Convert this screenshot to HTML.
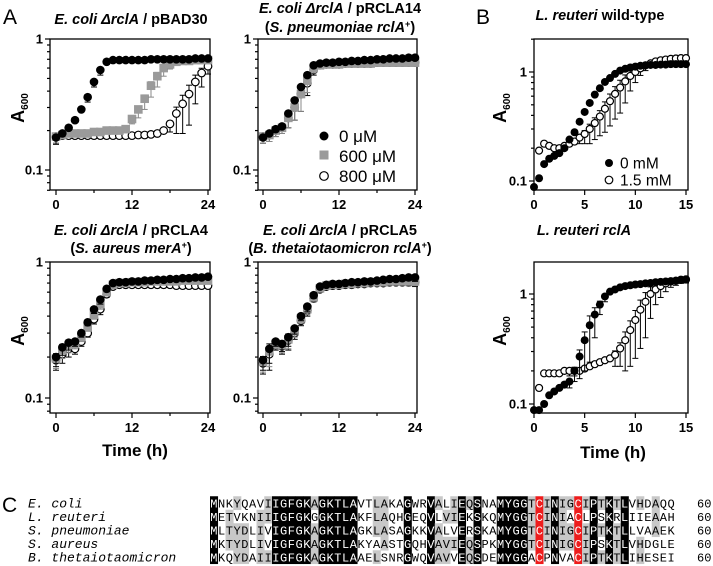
<!DOCTYPE html>
<html><head><meta charset="utf-8"><style>
html,body{margin:0;padding:0;background:#fff;width:713px;height:566px;overflow:hidden}
svg{display:block}
text{font-family:"Liberation Sans",sans-serif}
.tk{font-size:13px;font-weight:bold}
.ti{font-size:14.5px;font-weight:bold}
text.seq{font-family:"Liberation Mono","DejaVu Sans Mono",monospace !important;font-size:12px}
text.spn{font-family:"Liberation Mono","DejaVu Sans Mono",monospace !important;font-size:13px;font-style:italic}
</style></head><body>
<svg id="fig" width="713" height="566" viewBox="0 0 713 566" xmlns="http://www.w3.org/2000/svg">
<g id="panels"></g>
<g id="align"></g>
</svg>
<script>
// ---------- Panel A data (hourly 0..24) ----------
const tA = [0,1,2,3,4,5,6,7,8,9,10,11,12,13,14,15,16,17,18,19,20,21,22,23,24];
const a1Black = [0.177,0.19,0.21,0.24,0.29,0.36,0.47,0.58,0.67,0.69,0.69,0.69,0.69,0.69,0.69,0.70,0.70,0.70,0.70,0.70,0.70,0.70,0.71,0.71,0.71];
const a1Gray  = [0.18,0.185,0.19,0.19,0.19,0.19,0.195,0.195,0.2,0.2,0.2,0.205,0.245,0.29,0.35,0.44,0.52,0.6,0.64,0.67,0.68,0.68,0.69,0.69,0.69];
const a1Open  = [0.18,0.183,0.183,0.183,0.183,0.183,0.183,0.183,0.183,0.183,0.183,0.183,0.183,0.185,0.185,0.187,0.19,0.2,0.225,0.27,0.32,0.38,0.47,0.55,0.62];
const a1OpenErr = [0.02,0,0,0,0,0,0,0,0,0,0,0,0,0,0,0,0,0,0.03,0.08,0.13,0.16,0.15,0.12,0.08];
const a1GrayErr = [0.02,0,0,0,0,0,0,0,0,0,0,0,0.02,0.04,0.06,0.08,0.09,0.08,0.05,0,0,0,0,0,0];
const a1BlackErr= [0.02,0.01,0,0,0,0.03,0.04,0.05,0.03,0,0,0,0,0,0,0,0,0,0,0,0,0,0,0,0];

const a2Black = [0.177,0.19,0.205,0.215,0.27,0.34,0.43,0.53,0.63,0.65,0.66,0.66,0.67,0.67,0.68,0.68,0.69,0.69,0.70,0.70,0.71,0.71,0.71,0.72,0.72];
const a2Gray  = [0.18,0.185,0.2,0.21,0.25,0.3,0.38,0.48,0.6,0.63,0.64,0.64,0.64,0.65,0.65,0.65,0.65,0.65,0.66,0.66,0.66,0.66,0.66,0.66,0.66];
const a2Open  = [0.18,0.185,0.2,0.21,0.25,0.3,0.38,0.46,0.58,0.63,0.64,0.64,0.64,0.65,0.65,0.65,0.65,0.65,0.66,0.66,0.66,0.66,0.66,0.66,0.66];
const a2Err   = [0.02,0.02,0.02,0.02,0.04,0.06,0.1,0.09,0.05,0,0,0,0,0,0,0,0,0,0,0,0,0,0,0,0];

const a3Black = [0.2,0.236,0.255,0.26,0.30,0.36,0.448,0.53,0.635,0.70,0.71,0.71,0.72,0.72,0.73,0.73,0.74,0.74,0.75,0.75,0.76,0.76,0.77,0.77,0.78];
const a3Gray  = [0.195,0.225,0.245,0.25,0.28,0.33,0.41,0.49,0.6,0.68,0.70,0.70,0.71,0.71,0.71,0.72,0.72,0.72,0.72,0.72,0.73,0.73,0.73,0.73,0.73];
const a3Open  = [0.19,0.21,0.23,0.23,0.26,0.3,0.38,0.45,0.58,0.66,0.68,0.68,0.68,0.68,0.68,0.68,0.68,0.68,0.68,0.67,0.67,0.67,0.67,0.67,0.67];
const a3Err   = [0.03,0.03,0.03,0.02,0.02,0.02,0.03,0.04,0.03,0.02,0,0,0,0,0,0,0,0,0,0,0,0,0,0,0.02];

const a4Black = [0.19,0.23,0.26,0.25,0.28,0.325,0.40,0.47,0.57,0.66,0.68,0.69,0.69,0.70,0.71,0.71,0.72,0.72,0.73,0.74,0.75,0.75,0.76,0.77,0.77];
const a4Gray  = [0.185,0.22,0.25,0.245,0.27,0.31,0.385,0.45,0.55,0.64,0.67,0.68,0.68,0.69,0.69,0.70,0.70,0.71,0.71,0.71,0.72,0.72,0.72,0.72,0.72];
const a4Open  = [0.18,0.21,0.245,0.24,0.265,0.30,0.37,0.44,0.54,0.63,0.66,0.67,0.67,0.68,0.68,0.69,0.69,0.70,0.70,0.70,0.71,0.71,0.71,0.71,0.71];
const a4Err   = [0.03,0.05,0.02,0.03,0.04,0.03,0.03,0.04,0.03,0.02,0,0,0,0.02,0.02,0.02,0.02,0.02,0.02,0.02,0.02,0.02,0.03,0.04,0.05];

// ---------- Panel B data (0..15 every 0.5 h) ----------
const tB = [0,0.5,1,1.5,2,2.5,3,3.5,4,4.5,5,5.5,6,6.5,7,7.5,8,8.5,9,9.5,10,10.5,11,11.5,12,12.5,13,13.5,14,14.5,15];
const b1Black = [0.088,0.106,0.143,0.16,0.17,0.18,0.2,0.24,0.28,0.35,0.43,0.52,0.62,0.71,0.81,0.88,0.96,1.03,1.07,1.1,1.12,1.14,1.15,1.16,1.16,1.17,1.17,1.18,1.18,1.18,1.18];
const b1Open  = [null,0.19,0.22,0.21,0.2,0.2,0.21,0.22,0.23,0.25,0.27,0.3,0.34,0.39,0.46,0.54,0.63,0.72,0.82,0.92,1.0,1.08,1.15,1.2,1.25,1.28,1.3,1.32,1.33,1.34,1.34];
const b1Err   = [0,0,0,0,0,0,0,0,0,0.03,0.05,0.08,0.1,0.13,0.18,0.22,0.26,0.3,0.3,0.25,0.2,0.15,0.12,0.1,0,0,0,0,0,0,0];
const b2Black = [0.088,0.088,0.1,0.12,0.13,0.14,0.15,0.16,0.2,0.27,0.38,0.52,0.65,0.8,0.95,1.05,1.1,1.15,1.18,1.2,1.22,1.23,1.25,1.26,1.28,1.29,1.3,1.31,1.32,1.34,1.35];
const b2Open  = [null,0.14,0.19,0.19,0.19,0.19,0.2,0.2,0.2,0.2,0.21,0.22,0.23,0.24,0.25,0.26,0.28,0.32,0.38,0.47,0.58,0.72,0.85,1.0,1.1,1.18,1.25,1.3,1.32,1.35,1.36];
const b2BlackErr = [0,0,0,0,0,0,0,0.02,0.04,0.1,0.18,0.28,0.25,0.15,0.1,0,0,0,0,0,0,0,0,0,0,0,0,0,0,0,0];
const b2OpenErr  = [0,0,0,0,0,0,0,0.02,0.02,0,0,0,0,0,0,0,0.06,0.1,0.18,0.25,0.32,0.4,0.45,0.4,0.3,0.25,0.2,0.15,0.12,0.1,0.1];

const NS='http://www.w3.org/2000/svg';
const root=document.getElementById('panels');
function el(tag,attrs,parent){const e=document.createElementNS(NS,tag);for(const k in attrs)e.setAttribute(k,attrs[k]);(parent||root).appendChild(e);return e;}

function makePlot(cfg){
  const g=el('g',{});
  
  
  const xs=v=>cfg.x0+(v-cfg.xmin)/(cfg.xmax-cfg.xmin)*(cfg.x1-cfg.x0);
  const ys=v=>cfg.y1+(-Math.log10(v))*cfg.dec;
  const bot=cfg.ybot, top=cfg.ytop, L=cfg.axL, R=cfg.x1+2;
  const box=el('rect',{x:L,y:top,width:R-L,height:bot-top,fill:'none',stroke:'#000','stroke-width':1.3},g);
  
  
  const yt=el('g',{},g);
  
  
  for(let d=-2;d<=1;d++){for(let m=1;m<=9;m++){const v=m*Math.pow(10,d);const y=ys(v);if(y<top-0.5||y>bot+0.5)continue;
    el('line',{x1:L-(m==1?5:3),x2:L,y1:y,y2:y,stroke:'#000','stroke-width':1.2},yt);
    if(m==1){const t=el('text',{x:L-7,y:y+4.5,'text-anchor':'end',class:'tk'},yt);t.textContent=v<1?'0.1':'1';}}}
  const xt=el('g',{},g);
  
  
  cfg.minor.forEach(v=>el('line',{x1:xs(v),x2:xs(v),y1:bot,y2:bot+3,stroke:'#000','stroke-width':1.2},xt));
  cfg.major.forEach(v=>{el('line',{x1:xs(v),x2:xs(v),y1:bot,y2:bot+5,stroke:'#000','stroke-width':1.2},xt);
    const t=el('text',{x:xs(v),y:bot+19,'text-anchor':'middle',class:'tk'},xt);t.textContent=String(v);});
  cfg.series.forEach(s=>{
    const sg=el('g',{},g);
    
    
    s.t.forEach((tv,i)=>{const v=s.v[i];if(v==null)return;const x=xs(tv),y=ys(v);
      const e=s.err?s.err[i]:0;
      if(e>0){const ylo=ys(Math.max(v-e,0.05)),yhi=ys(v+e*0.4);
        el('line',{x1:x,x2:x,y1:yhi,y2:Math.min(ylo,bot),stroke:s.ec||'#000','stroke-width':1},sg);
        if(ylo<bot)el('line',{x1:x-3,x2:x+3,y1:ylo,y2:ylo,stroke:s.ec||'#000','stroke-width':1},sg);
        el('line',{x1:x-3,x2:x+3,y1:yhi,y2:yhi,stroke:s.ec||'#000','stroke-width':1},sg);}
      let m;
      if(s.shape=='sq')m=el('rect',{x:x-cfg.r,y:y-cfg.r,width:cfg.r*2,height:cfg.r*2,fill:'#9a9a9a'},sg);
      else if(s.shape=='open')m=el('circle',{cx:x,cy:y,r:cfg.r-0.5,fill:'#fff',stroke:'#000','stroke-width':1.2},sg);
      else m=el('circle',{cx:x,cy:y,r:cfg.r,fill:'#000'},sg);
      
      
    });
  });
  return g;
}
const aMaj=[0,12,24],aMin=[6,18],bMaj=[0,5,10,15],bMin=[];
const S=(name,t,v,shape,err,ec)=>({name,t,v,shape,err,ec});
makePlot({name:'plot-pbad30',x0:56,x1:208,xmin:0,xmax:24,axL:50,y1:39,dec:131,ytop:39,ybot:190,major:aMaj,minor:aMin,r:4.3,
  series:[S('series-800uM',tA,a1Open,'open',a1OpenErr),S('series-600uM',tA,a1Gray,'sq',a1GrayErr,'#888'),S('series-0uM',tA,a1Black,'fill',a1BlackErr)]});
makePlot({name:'plot-prcla14',x0:263,x1:415,xmin:0,xmax:24,axL:258,y1:39,dec:131,ytop:39,ybot:190,major:aMaj,minor:aMin,r:4.3,
  series:[S('series-800uM',tA,a2Open,'open',a2Err),S('series-600uM',tA,a2Gray,'sq',a2Err,'#888'),S('series-0uM',tA,a2Black,'fill')]});
makePlot({name:'plot-prcla4',x0:56,x1:208,xmin:0,xmax:24,axL:50,y1:262,dec:136,ytop:262,ybot:413,major:aMaj,minor:aMin,r:4.3,
  series:[S('series-800uM',tA,a3Open,'open',a3Err),S('series-600uM',tA,a3Gray,'sq',a3Err,'#888'),S('series-0uM',tA,a3Black,'fill',a3Err)]});
makePlot({name:'plot-prcla5',x0:263,x1:415,xmin:0,xmax:24,axL:258,y1:262,dec:136,ytop:262,ybot:413,major:aMaj,minor:aMin,r:4.3,
  series:[S('series-800uM',tA,a4Open,'open',a4Err),S('series-600uM',tA,a4Gray,'sq',a4Err,'#888'),S('series-0uM',tA,a4Black,'fill',a4Err)]});
makePlot({name:'plot-reuteri-wt',x0:534,x1:686,xmin:0,xmax:15,axL:534,y1:72,dec:109,ytop:39,ybot:190,major:bMaj,minor:bMin,r:4,
  series:[S('series-1.5mM',tB,b1Open,'open',b1Err),S('series-0mM',tB,b1Black,'fill')]});
makePlot({name:'plot-reuteri-rcla',x0:534,x1:686,xmin:0,xmax:15,axL:534,y1:294,dec:110,ytop:262,ybot:413,major:bMaj,minor:bMin,r:4,
  series:[S('series-1.5mM',tB,b2Open,'open',b2OpenErr),S('series-0mM',tB,b2Black,'fill',b2BlackErr)]});

function txt(x,y,html,attrs,name){const t=el('text',Object.assign({x,y},attrs||{}));t.innerHTML=html;return t;}
const I=s=>'<tspan font-style="italic">'+s+'</tspan>';
txt(3,24,'A',{'font-size':21},'panel-label-a');
txt(476,24,'B',{'font-size':21},'panel-label-b');
txt(2,512,'C',{'font-size':21},'panel-label-c');
txt(131,24,I('E. coli ΔrclA')+' / pBAD30',{'text-anchor':'middle',class:'ti'},'title-pbad30');
txt(340,13,I('E. coli ΔrclA')+' / pRCLA14',{'text-anchor':'middle',class:'ti'},'title-prcla14');
txt(340,32,'('+I('S. pneumoniae rclA')+'<tspan font-size="9" dy="-5">+</tspan><tspan dy="5">)</tspan>',{'text-anchor':'middle',class:'ti'},'subtitle-prcla14');
txt(131,235,I('E. coli ΔrclA')+' / pRCLA4',{'text-anchor':'middle',class:'ti'},'title-prcla4');
txt(131,253,'('+I('S. aureus merA')+'<tspan font-size="9" dy="-5">+</tspan><tspan dy="5">)</tspan>',{'text-anchor':'middle',class:'ti'},'subtitle-prcla4');
txt(340,235,I('E. coli ΔrclA')+' / pRCLA5',{'text-anchor':'middle',class:'ti'},'title-prcla5');
txt(340,253,'('+I('B. thetaiotaomicron rclA')+'<tspan font-size="9" dy="-5">+</tspan><tspan dy="5">)</tspan>',{'text-anchor':'middle',class:'ti'},'subtitle-prcla5');
txt(600,20,I('L. reuteri')+' wild-type',{'text-anchor':'middle',class:'ti'},'title-reuteri-wt');
txt(584,235,I('L. reuteri rclA'),{'text-anchor':'middle',class:'ti'},'title-reuteri-rcla');
function ylab(x,y,name){txt(x,y,'A<tspan font-size="10" dy="4">600</tspan>',{'text-anchor':'middle','font-size':18,'font-weight':'bold',transform:'rotate(-90 '+x+' '+y+')'},name);}
ylab(24,108,'y-axis-title-a1');ylab(24,331,'y-axis-title-a3');ylab(506,108,'y-axis-title-b1');ylab(506,331,'y-axis-title-b2');
txt(135,456,'Time (h)',{'text-anchor':'middle','font-size':17,'font-weight':'bold'},'x-axis-title-a');
txt(613,458,'Time (h)',{'text-anchor':'middle','font-size':17,'font-weight':'bold'},'x-axis-title-b');
const lgA=el('g',{});
el('circle',{cx:324,cy:136,r:4.5,fill:'#000'},lgA);
el('rect',{x:319.5,y:150.5,width:9,height:9,fill:'#9a9a9a'},lgA);
el('circle',{cx:324,cy:176,r:4.3,fill:'#fff',stroke:'#000','stroke-width':1.2},lgA);
[['0 μM',142],['600 μM',162],['800 μM',182]].forEach(a=>{const t=el('text',{x:339,y:a[1],'font-size':17},lgA);t.textContent=a[0];});
const lgB=el('g',{});
el('circle',{cx:609,cy:163,r:4,fill:'#000'},lgB);
el('circle',{cx:609,cy:180,r:3.8,fill:'#fff',stroke:'#000','stroke-width':1.2},lgB);
[['0 mM',168.5],['1.5 mM',185.5]].forEach(a=>{const t=el('text',{x:620,y:a[1],'font-size':15.5},lgB);t.textContent=a[0];});

const names=['E. coli','L. reuteri','S. pneumoniae','S. aureus','B. thetaiotaomicron'];
const seqs=['MNKYQAVIIGFGKAGKTLAVTLAKAGWRVALIEQSNAMYGGTCINIGCIPTKTLVHDAQQ',
'METVKNIIIGFGKGGKTLAKFLAQHGEQVLVIEKSKQMYGGTCINIACLPSKRLIIEAAH',
'MLTYDLIVIGFGKAGKTLAGKLASAGKKVALVERSKAMYGGTCINIGCIPTKTLLVAAEK',
'MKTYDLIVIGFGKAGKTLAKYAASTGQHVAVIEQSPKMYGGTCINIGCIPSKTLVHDGLE',
'MKQYDAIIIGFGKAGKTLAAELSNRGWQVAVVEQSDEMYGGACPNVACIPTKTLIHESEI'];
const ag=document.getElementById('align');
const cw=7.75,x0=210,rh=13.5,ry0=503;
seqs.forEach((s,r)=>{
  const cy=ry0+r*rh;
  const n=el('text',{x:28,y:cy+4.5,class:'spn'},ag);
  n.textContent=names[r];
  for(let c=0;c<60;c++){
    const ch=s[c];let cnt=0;seqs.forEach(q=>{if(q[c]==ch)cnt++;});
    let bg=null,fg='#000';
    if(ch=='C'&&(c==42||c==47)){bg='#ee1c1c';fg='#fff';}
    else if(cnt==5){bg='#000';fg='#fff';}
    else if(cnt>=3){bg='#c8c8c8';}
    if(bg)el('rect',{x:x0+c*cw,y:cy-rh/2,width:cw+0.3,height:rh+0.3,fill:bg},ag);
    const t=el('text',{x:x0+c*cw+cw/2,y:cy+4.5,'text-anchor':'middle',fill:fg,class:'seq'},ag);t.textContent=ch;
  }
  const e=el('text',{x:697,y:cy+4.5,class:'seq'},ag);e.textContent='60';
});
</script>
</body></html>
